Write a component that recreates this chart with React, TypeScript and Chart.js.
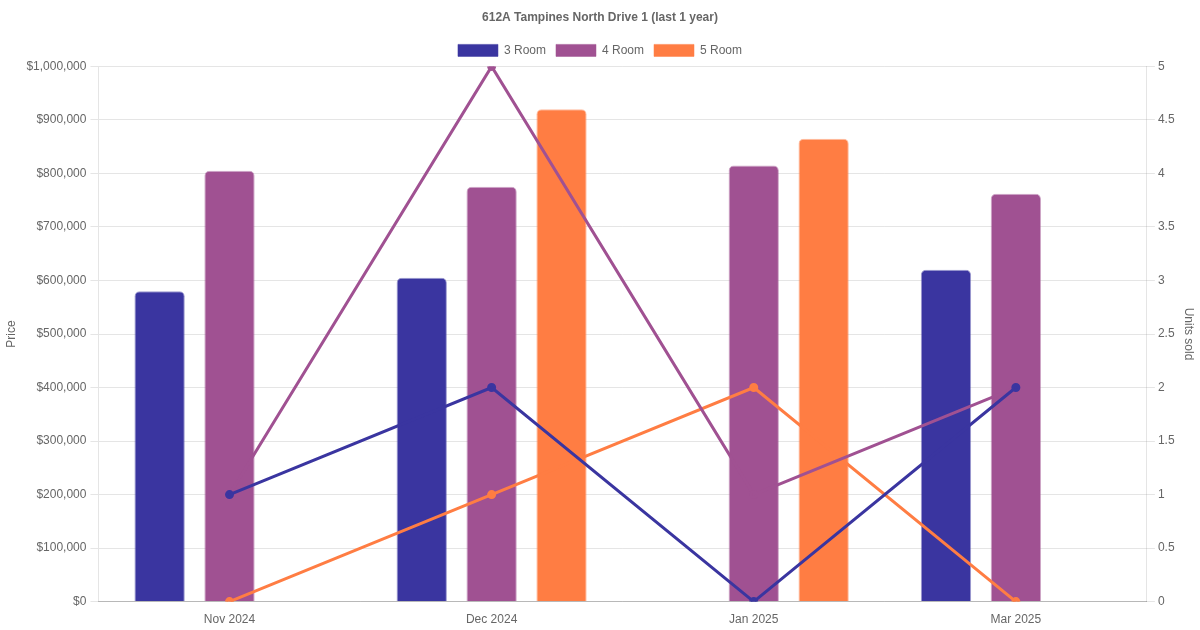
import React, { useEffect, useRef } from "react";
import { Chart, registerables } from "chart.js";

Chart.register(...registerables);

const categories = ["Nov 2024", "Dec 2024", "Jan 2025", "Mar 2025"];
const seriesNames = ["3 Room", "4 Room", "5 Room"];
const colors = ["#3A35A0", "#A05192", "#FF7D43"];
const borderColors = ["rgba(58,53,160,0.5)", "rgba(160,81,146,0.5)", "rgba(255,125,67,0.5)"];

const price3Room = [580000, 605000, null, 620000];
const price4Room = [805000, 775000, 815000, 762000];
const price5Room = [null, 920000, 865000, null];

const units3Room = [1, 2, 0, 2];
const units4Room = [1, 5, 1, 2];
const units5Room = [0, 1, 2, 0];

const priceTicksMax = 1000000;
const unitsTicksMax = 5;

const FONT = "'Liberation Sans', Arial, sans-serif";

export default function App() {
  const ref = useRef<HTMLCanvasElement | null>(null);

  useEffect(() => {
    document.body.style.margin = "0";
    const canvas = ref.current;
    if (!canvas) return;
    const prices = [price3Room, price4Room, price5Room];
    const units = [units3Room, units4Room, units5Room];
    const lineSets = units.map((u, i) => ({
      type: "line" as const,
      label: seriesNames[i] + " units",
      data: u,
      yAxisID: "y1",
      borderColor: colors[i],
      backgroundColor: colors[i],
      borderWidth: 3,
      pointRadius: 3,
      pointHoverRadius: 3,
      tension: 0,
      fill: false,
      order: 0,
    }));
    const barSets = prices.map((p, i) => ({
      type: "bar" as const,
      label: seriesNames[i],
      data: p,
      yAxisID: "y",
      backgroundColor: colors[i],
      borderColor: borderColors[i],
      borderWidth: 1,
      borderRadius: 5,
      barPercentage: 0.72,
      categoryPercentage: 0.8,
      order: 1,
    }));
    const chart = new Chart(canvas, {
      type: "bar",
      data: {
        labels: categories,
        datasets: [...lineSets, ...barSets] as any,
      },
      options: {
        animation: false,
        responsive: false,
        maintainAspectRatio: false,
        font: { family: FONT, size: 12 },
        color: "#666",
        plugins: {
          title: {
            display: true,
            text: "612A Tampines North Drive 1 (last 1 year)",
            color: "#666",
            font: { family: FONT, size: 12, weight: "bold" },
            padding: { top: 10, bottom: 10 },
          },
          legend: {
            display: true,
            labels: {
              color: "#666",
              font: { family: FONT, size: 12 },
              filter: (item: any, data: any) => data.datasets[item.datasetIndex].type === "bar",
            },
          },
          tooltip: { enabled: false },
        },
        scales: {
          x: {
            grid: { display: false },
            border: { display: true, color: "rgba(0,0,0,0.2)" },
            ticks: {
              color: "#666",
              font: { family: FONT, size: 12 },
            },
          },
          y: {
            position: "left",
            min: 0,
            max: priceTicksMax,
            ticks: {
              stepSize: 100000,
              padding: 4,
              color: "#666",
              font: { family: FONT, size: 12 },
              callback: (v: any) => "$" + Number(v).toLocaleString("en-US"),
            },
            grid: { color: "rgba(0,0,0,0.1)" },
            title: {
              display: true,
              text: "Price",
              color: "#666",
              font: { family: FONT, size: 12 },
            },
          },
          y1: {
            position: "right",
            min: 0,
            max: unitsTicksMax,
            ticks: {
              stepSize: 0.5,
              color: "#666",
              font: { family: FONT, size: 12 },
              callback: (v: any) => String(Number(v)),
            },
            grid: { drawOnChartArea: false, color: "rgba(0,0,0,0.1)" },
            title: {
              display: true,
              text: "Units sold",
              color: "#666",
              font: { family: FONT, size: 12 },
            },
          },
        },
      } as any,
    });
    return () => chart.destroy();
  }, []);

  return (
    <div style={{ width: 1200, height: 630 }}>
      <canvas ref={ref} width={1200} height={630} style={{ display: "block", width: 1200, height: 630 }} />
    </div>
  );
}
